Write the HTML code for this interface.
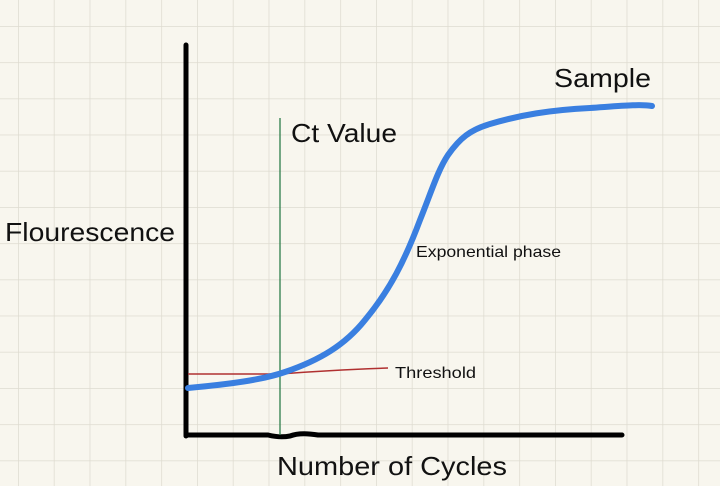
<!DOCTYPE html>
<html><head><style>
html,body{margin:0;padding:0;width:720px;height:486px;overflow:hidden;background:#f8f6ee}
svg{display:block}
text{font-family:"Liberation Sans",sans-serif;fill:#111}
</style></head><body>
<svg width="720" height="486" viewBox="0 0 720 486">
<defs><pattern id="g" x="18" y="26" width="35.8" height="36.2" patternUnits="userSpaceOnUse">
<path d="M0 0V36.2M0 0H35.8" stroke="#dedbd0" stroke-width="1.5" fill="none"/></pattern></defs>
<rect width="720" height="486" fill="#f8f6ee"/>
<rect width="720" height="486" fill="url(#g)"/>
<line x1="186" y1="45" x2="186" y2="436" stroke="#000" stroke-width="5" stroke-linecap="round"/>
<path d="M186 435 H268 Q280 438 290 436 Q300 432 318 435 H622" stroke="#000" stroke-width="5" fill="none" stroke-linecap="round"/>
<line x1="280" y1="118" x2="280" y2="435" stroke="#2e7d4a" stroke-width="1.3"/>
<path d="M188 374 H280 Q330 370 388 368" stroke="#b03030" stroke-width="1.5" fill="none"/>
<path d="M188 388 C230 384 262 380 285 372 C320 360 345 345 365 320 C390 290 405 260 420 220 C432 190 438 170 448 155 C460 138 470 130 490 124 C520 115 550 110 590 108 C620 106 640 104 652 106" stroke="#3a7fe0" stroke-width="6" fill="none" stroke-linecap="round"/>
<text x="291" y="142" font-size="26" textLength="106" lengthAdjust="spacingAndGlyphs">Ct Value</text>
<text x="554" y="87" font-size="26" textLength="97" lengthAdjust="spacingAndGlyphs">Sample</text>
<text x="5" y="241" font-size="26" textLength="170" lengthAdjust="spacingAndGlyphs">Flourescence</text>
<text x="416" y="257" font-size="16" textLength="145" lengthAdjust="spacingAndGlyphs">Exponential phase</text>
<text x="395" y="378" font-size="16" textLength="81" lengthAdjust="spacingAndGlyphs">Threshold</text>
<text x="277" y="475" font-size="26" textLength="230" lengthAdjust="spacingAndGlyphs">Number of Cycles</text>
</svg>
</body></html>
